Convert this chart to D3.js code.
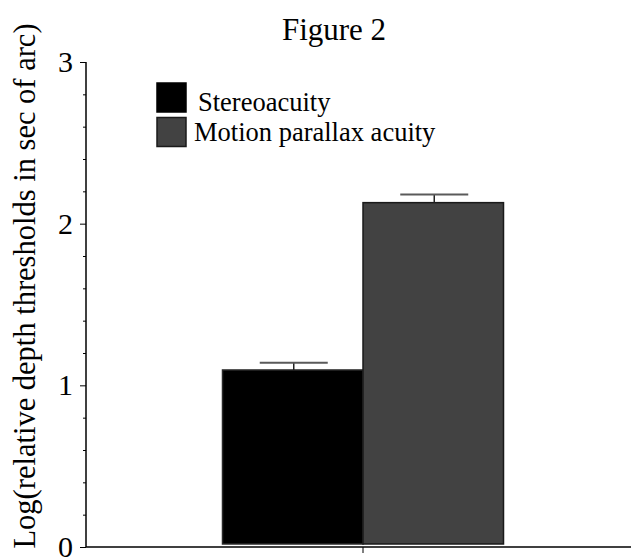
<!DOCTYPE html>
<html>
<head>
<meta charset="utf-8">
<script src="https://cdn.jsdelivr.net/npm/d3@7"></script>
<style>
  html, body { margin: 0; padding: 0; background: #fff; }
  text { font-family: "Liberation Serif", "Times New Roman", serif; fill: #000; }
</style>
</head>
<body>
<div id="mainDiv"></div>
<script>
// data
var groups = [ '' ];
var seriesNames = [ 'Stereoacuity', 'Motion parallax acuity' ];
var seriesValues = [ 1.095, 2.13 ];
var seriesErrors = [ 0.045, 0.05 ];
var seriesColors = [ '#000000', '#424242' ];
var yTicks = [ 0, 1, 2, 3 ];
var yMinorTicks = [ 0.2, 0.4, 0.6, 0.8, 1.2, 1.4, 1.6, 1.8, 2.2, 2.4, 2.6, 2.8 ];

var _width = 631, _height = 560;

var svg = d3.select( '#mainDiv' )
    .append( 'svg' )
    .attr( 'width', _width )
    .attr( 'height', _height );

var y = d3.scaleLinear().domain( [ 0, 3 ] ).range( [ 547, 62 ] );
var x0 = d3.scaleBand().domain( groups ).range( [ 86, 640 ] );
var x1 = d3.scaleBand().domain( seriesNames ).range( [ 0, 281 ] );

var bars = seriesNames.map( function ( name, i ) {
    return { name: name, value: seriesValues[ i ], err: seriesErrors[ i ], color: seriesColors[ i ] };
} );

// title
svg.append( 'text' )
    .attr( 'x', 334 )
    .attr( 'y', 40 )
    .attr( 'text-anchor', 'middle' )
    .style( 'font-size', '31px' )
    .text( 'Figure 2' );

// y axis label
svg.append( 'text' )
    .attr( 'transform', 'translate(35,286) rotate(-90)' )
    .attr( 'text-anchor', 'middle' )
    .style( 'font-size', '30.5px' )
    .text( 'Log(relative depth thresholds in sec of arc)' );

// bars
var groupLeft = x0( groups[ 0 ] ) + x0.bandwidth() / 2 - 140.5;
var barGrp = svg.append( 'g' ).attr( 'transform', 'translate(' + groupLeft + ',0)' );

barGrp.selectAll( 'rect.bar' )
    .data( bars )
    .enter()
    .append( 'rect' )
    .attr( 'class', 'bar' )
    .attr( 'x', function ( d ) { return x1( d.name ); } )
    .attr( 'y', function ( d ) { return y( d.value ); } )
    .attr( 'width', x1.bandwidth() )
    .attr( 'height', function ( d ) { return y( 0 ) - 3 - y( d.value ); } )
    .attr( 'fill', function ( d ) { return d.color; } )
    .attr( 'stroke', function ( d, i ) { return i === 0 ? '#2a2a2a' : '#1a1a1a'; } )
    .attr( 'stroke-width', 1.5 );

// error bars
var eb = barGrp.selectAll( 'g.err' )
    .data( bars )
    .enter()
    .append( 'g' )
    .attr( 'class', 'err' );
eb.append( 'line' )
    .attr( 'x1', function ( d ) { return x1( d.name ) + x1.bandwidth() / 2 + 1; } )
    .attr( 'x2', function ( d ) { return x1( d.name ) + x1.bandwidth() / 2 + 1; } )
    .attr( 'y1', function ( d ) { return y( d.value + d.err ); } )
    .attr( 'y2', function ( d ) { return y( d.value ); } )
    .attr( 'stroke', '#222' )
    .attr( 'stroke-width', 1.5 );
eb.append( 'line' )
    .attr( 'x1', function ( d ) { return x1( d.name ) + x1.bandwidth() / 2 + 1 - 34; } )
    .attr( 'x2', function ( d ) { return x1( d.name ) + x1.bandwidth() / 2 + 1 + 34; } )
    .attr( 'y1', function ( d ) { return y( d.value + d.err ); } )
    .attr( 'y2', function ( d ) { return y( d.value + d.err ); } )
    .attr( 'stroke', '#5a5a5a' )
    .attr( 'stroke-width', 2 );

// y axis
var yAxis = svg.append( 'g' )
    .attr( 'transform', 'translate(86,0)' )
    .call( d3.axisLeft( y ).tickValues( yTicks ).tickFormat( d3.format( 'd' ) ).tickSize( 6 ).tickPadding( 7 ) );
yAxis.select( '.domain' ).attr( 'stroke', '#000' ).attr( 'stroke-width', 1.5 ).attr( 'd', 'M0,' + y( 3 ) + 'V' + y( 0 ) );
yAxis.selectAll( '.tick line' ).attr( 'stroke', '#000' ).attr( 'stroke-width', 1 );
yAxis.selectAll( '.tick text' )
    .style( 'font-size', '30px' )
    .style( 'font-family', '"Liberation Serif", "Times New Roman", serif' );

var yMinor = svg.append( 'g' )
    .attr( 'transform', 'translate(86,0)' )
    .call( d3.axisLeft( y ).tickValues( yMinorTicks ).tickFormat( '' ).tickSize( 3 ) );
yMinor.select( '.domain' ).remove();
yMinor.selectAll( '.tick line' ).attr( 'stroke', '#000' ).attr( 'stroke-width', 1 );

// x axis
var xAxis = svg.append( 'g' )
    .attr( 'transform', 'translate(0,' + y( 0 ) + ')' )
    .call( d3.axisBottom( x0 ).tickSize( 6 ).tickFormat( '' ) );
xAxis.select( '.domain' ).attr( 'stroke', '#000' ).attr( 'stroke-width', 1.5 ).attr( 'd', 'M86,0H631' );
xAxis.selectAll( '.tick line' ).attr( 'stroke', '#000' ).attr( 'stroke-width', 1 );

// legend
var legend = svg.append( 'g' ).attr( 'transform', 'translate(157,83)' );
var item = legend.selectAll( 'g.item' )
    .data( bars )
    .enter()
    .append( 'g' )
    .attr( 'class', 'item' )
    .attr( 'transform', function ( d, i ) { return 'translate(0,' + ( i * 34.5 ) + ')'; } );
item.append( 'rect' )
    .attr( 'width', 29 )
    .attr( 'height', 29 )
    .attr( 'fill', function ( d ) { return d.color; } )
    .attr( 'stroke', function ( d, i ) { return i === 0 ? '#000' : '#1a1a1a'; } )
    .attr( 'stroke-width', 1.5 );
item.append( 'text' )
    .attr( 'x', function ( d, i ) { return i === 0 ? 41 : 37; } )
    .attr( 'y', function ( d, i ) { return i === 0 ? 27.5 : 23.5; } )
    .style( 'font-size', '26.5px' )
    .text( function ( d ) { return d.name; } );
</script>
</body>
</html>
